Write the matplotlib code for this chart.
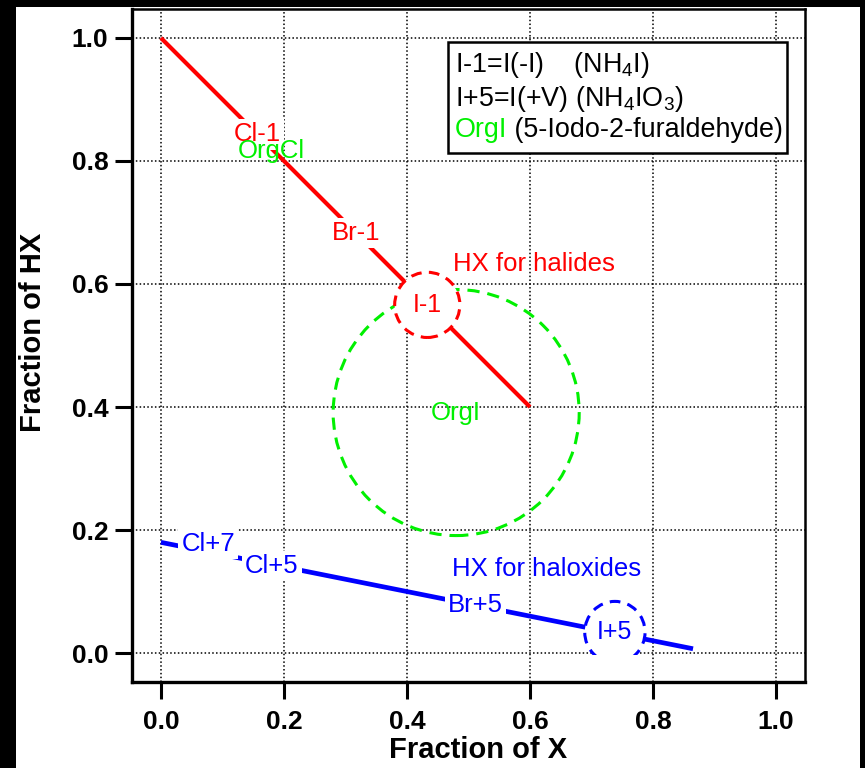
import numpy as np
import matplotlib
matplotlib.use("Agg")
import matplotlib.pyplot as plt
from matplotlib.patches import Ellipse, Rectangle

plt.rcParams["font.family"] = ["Liberation Sans", "DejaVu Sans"]
plt.rcParams["mathtext.fontset"] = "custom"
plt.rcParams["mathtext.rm"] = "Liberation Sans"
plt.rcParams["mathtext.it"] = "Liberation Sans:italic"
plt.rcParams["mathtext.bf"] = "Liberation Sans:bold"

# HX fraction vs X fraction for the two compound families
HALIDE_X = [0.0, 0.6]
HALIDE_Y = [1.0, 0.4]
HALOXIDE_X = [0.0, 0.865]
HALOXIDE_Y = [0.18, 0.007]

# species labels sitting on the lines
HALIDE_LABELS = ["Cl-1", "Br-1"]
HALIDE_LX = [0.157, 0.317]
HALIDE_LY = [0.843, 0.683]
HALOXIDE_LABELS = ["Cl+7", "Cl+5", "Br+5"]
HALOXIDE_LX = [0.077, 0.180, 0.511]
HALOXIDE_LY = [0.177, 0.141, 0.078]

# iodine species (circled): centre x, centre y, width, height
I_MINUS1 = (0.433, 0.566, 0.106, 0.106)
I_PLUS5 = (0.738, 0.034, 0.098, 0.100)
ORG_I = (0.480, 0.391, 0.400, 0.400)
ORG_CL = (0.179, 0.816)

TICKS = [0.0, 0.2, 0.4, 0.6, 0.8, 1.0]

RED, GREEN, BLUE = "#ff0000", "#00f000", "#0000ff"
FS_ANN = 18.5

fig = plt.figure(figsize=(8.65, 7.68), dpi=100)
ax = fig.add_axes([0.1526, 0.1120, 0.778, 0.8763])

ax.set_xlim(-0.047, 1.047)
ax.set_ylim(-0.047, 1.047)
ax.set_xticks(TICKS)
ax.set_yticks(TICKS)
ax.set_xticklabels([f"{t:.1f}" for t in TICKS])
ax.set_yticklabels([f"{t:.1f}" for t in TICKS])
for lab in ax.get_xticklabels() + ax.get_yticklabels():
    lab.set_fontweight("bold")
ax.tick_params(axis="x", direction="out", length=12, width=2.2, labelsize=19, pad=8)
ax.tick_params(axis="y", direction="out", length=12, width=2.2, labelsize=19, pad=5)
ax.grid(True, color="black", linestyle=(0, (1, 1.5)), linewidth=1.1)
ax.set_axisbelow(True)
for side in ("left", "bottom"):
    ax.spines[side].set_linewidth(2.4)
for side in ("top", "right"):
    ax.spines[side].set_linewidth(1.8)

ax.set_xlabel("Fraction of X", fontsize=21, fontweight="bold", va="top")
ax.set_ylabel("Fraction of HX", fontsize=21, fontweight="bold")
ax.xaxis.set_label_coords(0.514, -0.080)
ax.yaxis.set_label_coords(-0.126, 0.52)

# lines
ax.plot(HALIDE_X, HALIDE_Y, color=RED, lw=3.0, solid_capstyle="butt", zorder=3)
ax.plot(HALOXIDE_X, HALOXIDE_Y, color=BLUE, lw=3.4, solid_capstyle="butt", zorder=3)

box = dict(boxstyle="square,pad=0.12", fc="white", ec="none")
for s, x, y in zip(HALIDE_LABELS, HALIDE_LX, HALIDE_LY):
    ax.text(x, y, s, color=RED, fontsize=FS_ANN, ha="center", va="center",
            bbox=box, zorder=5)
for s, x, y in zip(HALOXIDE_LABELS, HALOXIDE_LX, HALOXIDE_LY):
    ax.text(x, y, s, color=BLUE, fontsize=FS_ANN, ha="center", va="center",
            bbox=box, zorder=5)

ax.text(ORG_CL[0], ORG_CL[1], "OrgCl", color=GREEN, fontsize=FS_ANN,
        ha="center", va="center", zorder=6)

# OrgI region
cx, cy, w, h = ORG_I
ax.add_patch(Ellipse((cx, cy), w, h, fill=False, ec=GREEN, lw=2.2,
                     linestyle=(0, (4, 2.6)), zorder=4))
ax.text(cx, cy, "OrgI", color=GREEN, fontsize=FS_ANN, ha="center", va="center", zorder=6)

# I-1 (iodide) marker
cx, cy, w, h = I_MINUS1
ax.add_patch(Ellipse((cx, cy), w, h, fc="white", ec=RED, lw=2.2,
                     linestyle=(0, (3.5, 2.4)), zorder=7))
ax.text(cx, cy, "I-1", color=RED, fontsize=18, ha="center", va="center", zorder=8)

# I+5 (iodate) marker, open at the baseline
cx, cy, w, h = I_PLUS5
ell = Ellipse((cx, cy), w, h, fc="white", ec=BLUE, lw=2.2,
              linestyle=(0, (3.5, 2.4)), zorder=7)
ax.add_patch(ell)
ell.set_clip_path(Rectangle((0.5, -0.003), 0.5, 0.5, transform=ax.transData))
ax.text(cx, cy, "I+5", color=BLUE, fontsize=18, ha="center", va="center", zorder=8)

ax.text(0.607, 0.633, "HX for halides", color=RED, fontsize=FS_ANN,
        ha="center", va="center", zorder=6)
ax.text(0.627, 0.136, "HX for haloxides", color=BLUE, fontsize=FS_ANN,
        ha="center", va="center", zorder=6)

# key box
ax.add_patch(Rectangle((0.4695, 0.786), 0.5035, 0.165, transform=ax.transAxes,
                       fc="white", ec="black", lw=1.8, zorder=9))
ax.text(0.480, 0.917, "I-1=I(-I)    (NH$_4$I)", transform=ax.transAxes,
        fontsize=19.4, ha="left", va="center", zorder=10)
ax.text(0.480, 0.866, "I+5=I(+V) (NH$_4$IO$_3$)", transform=ax.transAxes,
        fontsize=19.4, ha="left", va="center", zorder=10)
t_org = ax.text(0.480, 0.820, "OrgI", transform=ax.transAxes, color=GREEN,
                fontsize=19.4, ha="left", va="center", zorder=10)
ax.annotate(" (5-Iodo-2-furaldehyde)", xy=(1, 0), xycoords=t_org,
            fontsize=19.4, ha="left", va="bottom", zorder=10)

# dark margins of the exported frame
fig.patches.append(Rectangle((0, 0), 16 / 865, 1, transform=fig.transFigure,
                             fc="black", ec="none", zorder=-1))
fig.patches.append(Rectangle((0, 1 - 7 / 768), 1, 7 / 768, transform=fig.transFigure,
                             fc="black", ec="none", zorder=-1))
fig.patches.append(Rectangle((860 / 865, 0), 5 / 865, 1, transform=fig.transFigure,
                             fc="black", ec="none", zorder=-1))

fig.savefig("out.png", dpi=100)
